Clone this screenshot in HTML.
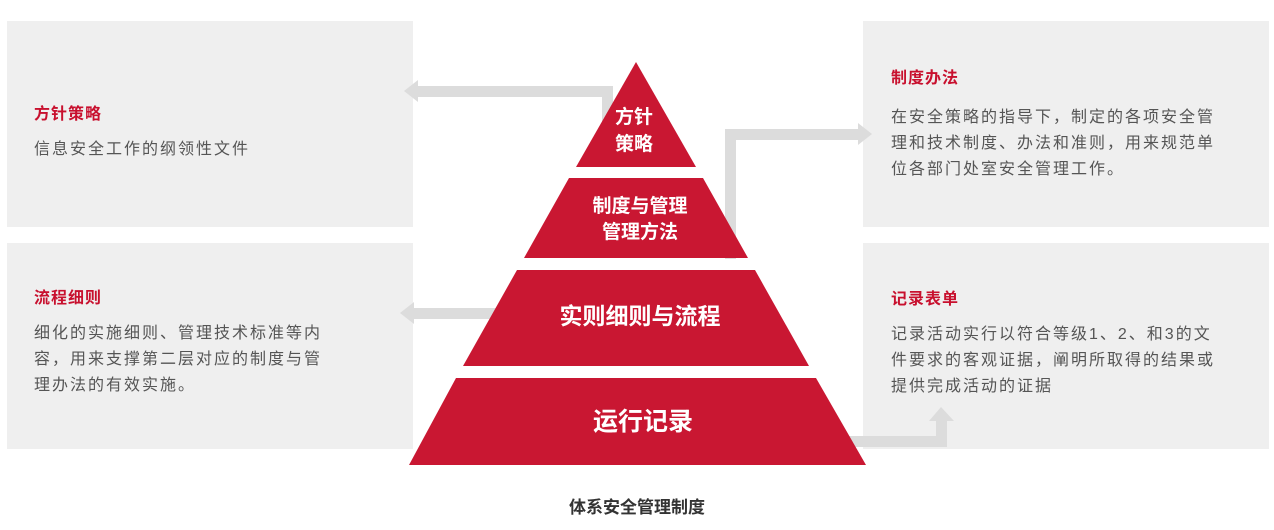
<!DOCTYPE html>
<html><head><meta charset="utf-8"><style>
body{margin:0;width:1274px;height:530px;background:#fff;position:relative;overflow:hidden;font-family:"Liberation Sans","Noto Sans CJK SC",sans-serif}
.box{position:absolute;background:#efefef;width:406px;height:206px}
.t{position:absolute;color:#c8102e;font-weight:bold;font-size:16px;letter-spacing:1px}
.b{position:absolute;color:#555;font-size:16px;letter-spacing:2px;line-height:26px}
svg{position:absolute;left:0;top:0}
</style></head><body>
<div class="box" style="left:7px;top:21px"></div>
<div class="box" style="left:7px;top:243px"></div>
<div class="box" style="left:863px;top:21px"></div>
<div class="box" style="left:863px;top:243px"></div>
<div class="t" style="left:34px;top:100px">方针策略</div>
<div class="b" style="left:34px;top:137px;width:300px">信息安全工作的纲领性文件</div>
<div class="t" style="left:34px;top:284px">流程细则</div>
<div class="b" style="left:34px;top:321px;width:296px">细化的实施细则、管理技术标准等内容，用来支撑第二层对应的制度与管理办法的有效实施。</div>
<div class="t" style="left:891px;top:64px">制度办法</div>
<div class="b" style="left:891px;top:105px;width:332px">在安全策略的指导下，制定的各项安全管理和技术制度、办法和准则，用来规范单位各部门处室安全管理工作。</div>
<div class="t" style="left:891px;top:285px">记录表单</div>
<div class="b" style="left:891px;top:322px;width:328px">记录活动实行以符合等级1、2、和3的文件要求的客观证据，阐明所取得的结果或提供完成活动的证据</div>
<svg width="1274" height="530">
<g fill="#dcdcdc">
<rect x="602" y="86" width="11" height="80"/><rect x="416" y="86" width="197" height="11"/><polygon points="404,91 418,80 418,102"/>
<rect x="725" y="129" width="11" height="130"/><rect x="725" y="129" width="134" height="11"/><polygon points="872,134 858,123 858,145"/>
<rect x="412" y="308" width="100" height="11"/><polygon points="400,313 414,302 414,324"/>
<rect x="830" y="436" width="117" height="11"/><rect x="936" y="420" width="11" height="27"/><polygon points="941,407 929,421 954,421"/>
</g>
<g fill="#c91732">
<polygon points="636,62 696,167 576,167"/>
<polygon points="569,178 703,178 748,258 524,258"/>
<polygon points="517,270 755,270 809,366 463,366"/>
<polygon points="456,378 816,378 866,465 409,465"/>
</g>
<g fill="#fff" font-weight="bold" text-anchor="middle" font-family="Liberation Sans,Noto Sans CJK SC,sans-serif">
<text x="634" y="123" font-size="19">方针</text><text x="634" y="150" font-size="19">策略</text>
<text x="640" y="212" font-size="19">制度与管理</text><text x="640" y="238" font-size="19">管理方法</text>
<text x="640" y="324" font-size="23">实则细则与流程</text>
<text x="643" y="430" font-size="25">运行记录</text>
</g>
<text x="637" y="513" text-anchor="middle" font-size="17" font-weight="bold" fill="#333" font-family="Liberation Sans,Noto Sans CJK SC,sans-serif">体系安全管理制度</text>
</svg>
</body></html>
